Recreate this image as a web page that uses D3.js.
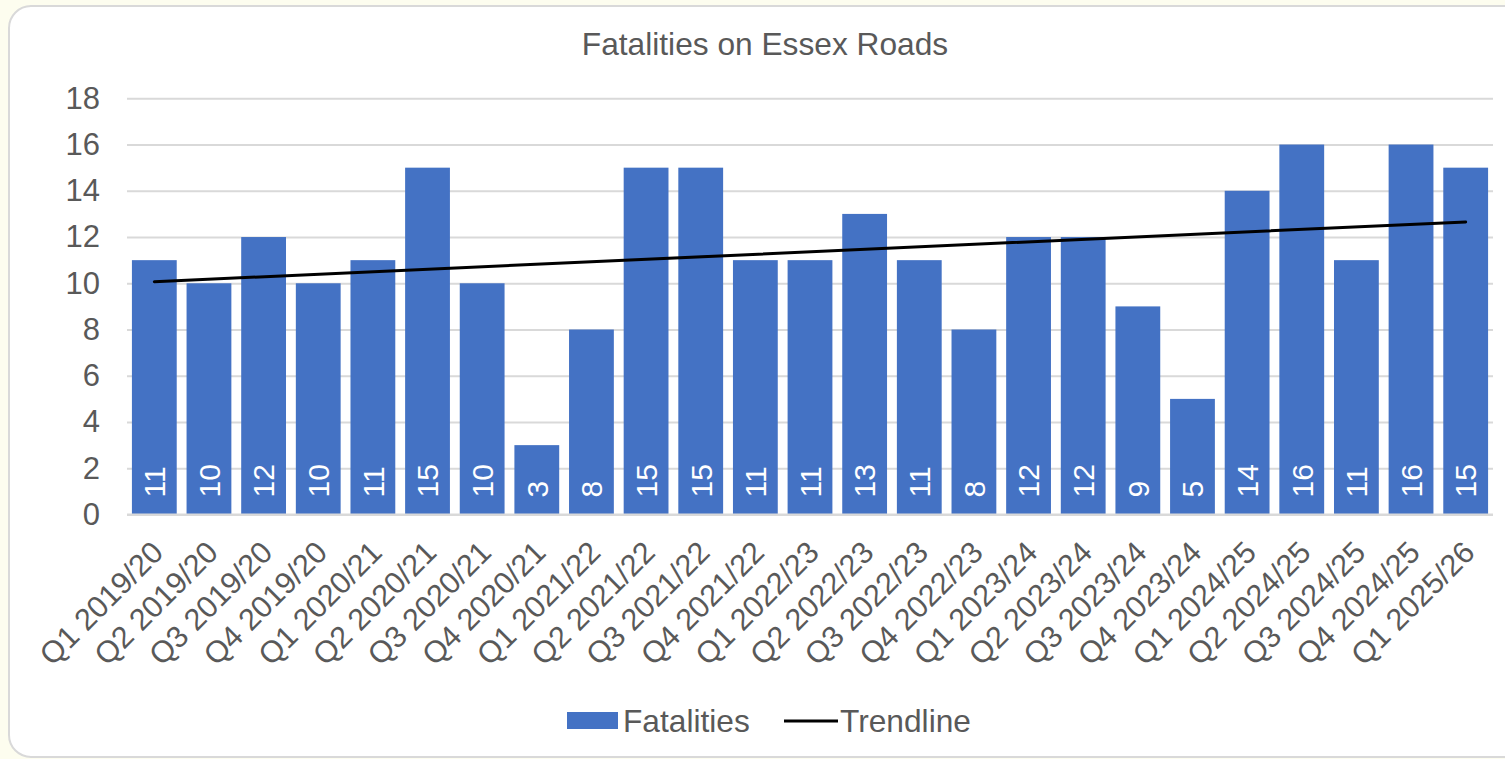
<!DOCTYPE html>
<html>
<head>
<meta charset="utf-8">
<script src="https://cdn.jsdelivr.net/npm/d3@7"></script>
<style>
  html, body { margin: 0; padding: 0; background: #fdfdef; }
  svg { display: block; font-family: "Liberation Sans", Arial, sans-serif; }
</style>
</head>
<body>
<div class="chartWrapper"></div>
<script>
var categories = ['Q1 2019/20','Q2 2019/20','Q3 2019/20','Q4 2019/20',
                  'Q1 2020/21','Q2 2020/21','Q3 2020/21','Q4 2020/21',
                  'Q1 2021/22','Q2 2021/22','Q3 2021/22','Q4 2021/22',
                  'Q1 2022/23','Q2 2022/23','Q3 2022/23','Q4 2022/23',
                  'Q1 2023/24','Q2 2023/24','Q3 2023/24','Q4 2023/24',
                  'Q1 2024/25','Q2 2024/25','Q3 2024/25','Q4 2024/25',
                  'Q1 2025/26'];
var fatalities = [11,10,12,10,11,15,10,3,8,15,15,11,11,13,11,8,12,12,9,5,14,16,11,16,15];
var yTicks = [0,2,4,6,8,10,12,14,16,18];

var width = 1505, height = 759;
var plot = { left: 127, right: 1493, top: 98.3, bottom: 514.5 };
var textColor = '#595959', barColor = '#4472c4', gridColor = '#d9d9d9';

var svg = d3.select('.chartWrapper').append('svg')
    .attr('width', width)
    .attr('height', height);

// chart panel
svg.append('rect')
    .attr('x', 9).attr('y', 6)
    .attr('width', 1520).attr('height', 751)
    .attr('rx', 22).attr('ry', 22)
    .attr('fill', '#fff')
    .attr('stroke', '#d9d9d9')
    .attr('stroke-width', 2);

svg.append('text')
    .attr('x', 765).attr('y', 55)
    .attr('text-anchor', 'middle')
    .attr('fill', textColor)
    .attr('font-size', '31.7px')
    .text('Fatalities on Essex Roads');

var xScale = d3.scaleBand()
    .domain(categories)
    .range([plot.left, plot.right])
    .paddingInner(0.18)
    .paddingOuter(0.09);
var yScale = d3.scaleLinear()
    .domain([0, 18])
    .range([plot.bottom, plot.top]);

// gridlines + y labels
var yAxis = d3.axisLeft(yScale)
    .tickValues(yTicks)
    .tickSize(-(plot.right - plot.left))
    .tickPadding(27);
var gy = svg.append('g')
    .attr('transform', 'translate(' + plot.left + ',0)')
    .call(yAxis);
gy.select('.domain').remove();
gy.selectAll('line').attr('stroke', gridColor).attr('stroke-width', 2);
gy.selectAll('text')
    .attr('fill', textColor)
    .attr('font-size', '31px')
    .attr('font-family', '"Liberation Sans", Arial, sans-serif');

// bars
svg.append('g').selectAll('rect')
    .data(fatalities)
    .enter()
    .append('rect')
    .attr('fill', barColor)
    .attr('x', function (d, i) { return xScale(categories[i]); })
    .attr('y', function (d) { return yScale(d); })
    .attr('width', xScale.bandwidth())
    .attr('height', function (d) { return yScale(0) - yScale(d); });

// data labels at the inside base
svg.append('g').selectAll('text')
    .data(fatalities)
    .enter()
    .append('text')
    .attr('transform', function (d, i) {
        var cx = xScale(categories[i]) + xScale.bandwidth() / 2;
        return 'translate(' + cx + ',' + (plot.bottom - 17) + ') rotate(-90)';
    })
    .attr('dy', '0.36em')
    .attr('fill', '#fff')
    .attr('font-size', '30px')
    .text(function (d) { return d; });

// x axis line
svg.append('line')
    .attr('x1', plot.left).attr('x2', plot.right)
    .attr('y1', plot.bottom).attr('y2', plot.bottom)
    .attr('stroke', gridColor).attr('stroke-width', 2);

// x labels
svg.append('g').selectAll('text')
    .data(categories)
    .enter()
    .append('text')
    .attr('transform', function (d) {
        var cx = xScale(d) + xScale.bandwidth() / 2;
        return 'translate(' + (cx + 3) + ',' + (plot.bottom + 32) + ') rotate(-45)';
    })
    .attr('text-anchor', 'end')
    .attr('dy', '0.36em')
    .attr('fill', textColor)
    .attr('font-size', '30.5px')
    .text(function (d) { return d; });

// linear trendline (least squares on the series)
var n = fatalities.length;
var xMean = d3.mean(d3.range(n)), yMean = d3.mean(fatalities);
var sxy = d3.sum(fatalities, function (d, i) { return (i - xMean) * (d - yMean); });
var sxx = d3.sum(d3.range(n), function (i) { return (i - xMean) * (i - xMean); });
var slope = sxy / sxx, intercept = yMean - slope * xMean;
var trendPts = [0, n - 1].map(function (i) { return [i, intercept + slope * i]; });
var trendLine = d3.line()
    .x(function (p) { return xScale(categories[p[0]]) + xScale.bandwidth() / 2; })
    .y(function (p) { return yScale(p[1]); });
svg.append('path')
    .datum(trendPts)
    .attr('d', trendLine)
    .attr('fill', 'none')
    .attr('stroke', '#000')
    .attr('stroke-width', 3)
    .attr('stroke-linecap', 'round');

// legend
var legend = svg.append('g');
legend.append('rect')
    .attr('x', 567).attr('y', 712)
    .attr('width', 51).attr('height', 17)
    .attr('fill', barColor);
legend.append('text')
    .attr('x', 623).attr('y', 732)
    .attr('fill', textColor)
    .attr('font-size', '31.7px')
    .text('Fatalities');
legend.append('line')
    .attr('x1', 784).attr('x2', 838)
    .attr('y1', 721).attr('y2', 721)
    .attr('stroke', '#000').attr('stroke-width', 3);
legend.append('text')
    .attr('x', 840).attr('y', 732)
    .attr('fill', textColor)
    .attr('font-size', '31.7px')
    .text('Trendline');
</script>
</body>
</html>
